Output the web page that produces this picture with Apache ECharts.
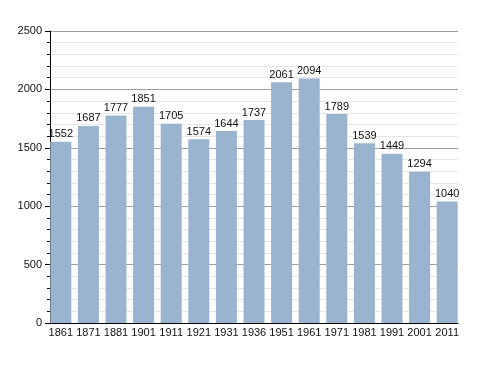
<!DOCTYPE html>
<html><head><meta charset="utf-8">
<script src="https://cdn.jsdelivr.net/npm/echarts@6/dist/echarts.min.js"></script>
<style>html,body{margin:0;padding:0;background:#fff}#c{width:488px;height:373px}</style>
</head><body><div id="c"></div>
<script>
const years = ['1861','1871','1881','1901','1911','1921','1931','1936','1951','1961','1971','1981','1991','2001','2011'];
const population = [1552,1687,1777,1851,1705,1574,1644,1737,2061,2094,1789,1539,1449,1294,1040];
const yMin = 0, yMax = 2500, yInterval = 500;

const font = 'Liberation Sans, Arial, sans-serif';
const chart = echarts.init(document.getElementById('c'), null, {renderer:'canvas'});
chart.setOption({
  animation:false,
  backgroundColor:'#fff',
  grid:[
    {left:50, right:30, top:31, bottom:50},
    {left:47, right:27, top:31, bottom:50}
  ],
  xAxis:[
    {gridIndex:0, type:'category', data:years, boundaryGap:true,
     axisLine:{show:true, lineStyle:{color:'#000', width:1}},
     axisTick:{show:false}, axisLabel:{show:false}, splitLine:{show:false}},
    {gridIndex:1, type:'category', data:years, boundaryGap:true,
     axisLine:{show:false}, axisTick:{show:false},
     axisLabel:{show:true, color:'#111', fontSize:11, fontFamily:font, margin:4, interval:0}}
  ],
  yAxis:[
    {gridIndex:0, type:'value', min:yMin, max:yMax, interval:yInterval,
     axisLine:{show:true, lineStyle:{color:'#000', width:1}},
     axisTick:{show:true, length:5, lineStyle:{color:'#000'}},
     minorTick:{show:true, splitNumber:5, length:3, lineStyle:{color:'#000'}},
     axisLabel:{color:'#111', fontSize:11, fontFamily:font, margin:8, formatter:v => String(v)},
     splitLine:{show:true, lineStyle:{color:'#a0a0a0', width:1}},
     minorSplitLine:{show:true, lineStyle:{color:'#e6e6e6', width:1}}},
    {gridIndex:1, type:'value', min:yMin, max:yMax, interval:yInterval, show:false,
     splitLine:{show:false}}
  ],
  series:[{
    type:'bar', xAxisIndex:1, yAxisIndex:1, data:population,
    barWidth:21,
    itemStyle:{color:'#9ab3cf'},
    label:{show:true, position:'top', distance:2, color:'#111', fontSize:11, fontFamily:font}
  }]
});
</script></body></html>
